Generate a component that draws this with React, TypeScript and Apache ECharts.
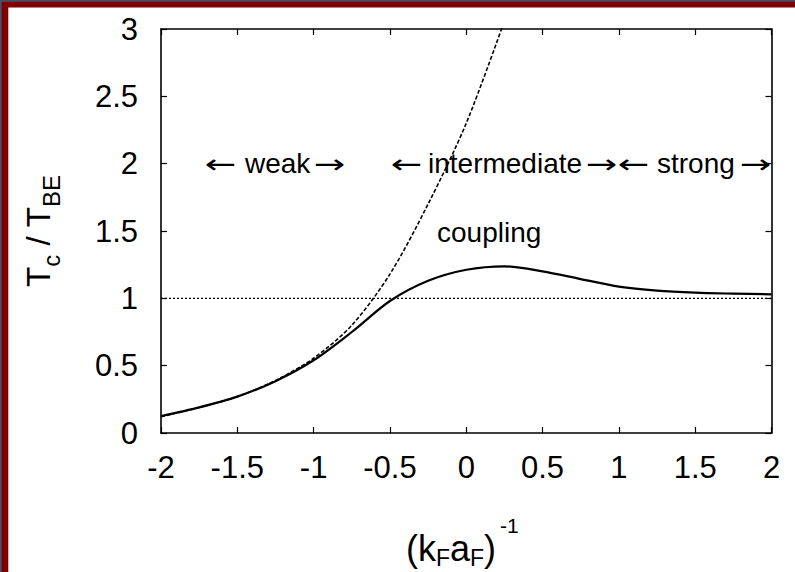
import React, { useEffect, useRef } from "react";
import * as echarts from "echarts";

// Solid curve: Tc / T_BE
const solidX = [-2, -1.75, -1.5, -1.25, -1, -0.75, -0.5, -0.25, 0, 0.25, 0.5, 0.75, 1, 1.25, 1.5, 1.75, 2];
const solidY = [0.125, 0.19, 0.27, 0.385, 0.54, 0.75, 0.98, 1.13, 1.212, 1.238, 1.2, 1.143, 1.087, 1.057, 1.042, 1.035, 1.03];

// Dashed curve (diverging)
const dashX = [-2, -1.75, -1.5, -1.25, -1, -0.75, -0.5, -0.25, 0, 0.25];
const dashY = [0.12, 0.19, 0.27, 0.39, 0.555, 0.8, 1.18, 1.7, 2.3, 3.06];

// Dotted reference level
const refX = [-2, 2];
const refY = [1, 1];

const FONT = '"Liberation Sans", Arial, Helvetica, sans-serif';
const ARROW_FONT = '"DejaVu Sans", sans-serif';

function textWidth(t: string, size: number, family = '"Liberation Sans", Arial, sans-serif') {
  const ctx = document.createElement("canvas").getContext("2d")!;
  ctx.font = `${size}px ${family}`;
  return ctx.measureText(t).width;
}

function zip(xs: number[], ys: number[]) {
  return xs.map((x, i) => [x, ys[i]]);
}

export default function App() {
  const ref = useRef<HTMLDivElement>(null);
  useEffect(() => {
    if (!ref.current) return;
    const chart = echarts.init(ref.current, undefined, { renderer: "svg" });

    // x-axis title pieces
    const xPieces = [
      { t: "(k", s: 36, base: 561, gap: 0 },
      { t: "F", s: 23, base: 566, gap: 0 },
      { t: "a", s: 36, base: 561, gap: 0 },
      { t: "F", s: 23, base: 566, gap: 0 },
      { t: ")", s: 36, base: 561, gap: 0 },
      { t: "-1", s: 21, base: 533, gap: 4 },
    ];
    let cx = 406;
    const xTitle: any[] = xPieces.map((p) => {
      cx += p.gap;
      const el = {
        type: "text",
        x: cx,
        y: p.base - 0.3465 * p.s,
        style: { text: p.t, font: `${p.s}px ${FONT}`, fill: "#000", align: "left", verticalAlign: "middle" },
      };
      cx += textWidth(p.t, p.s);
      return el;
    });

    // y-axis title pieces (rotated)
    const yPieces = [
      { t: "T", s: 33, base: 50 },
      { t: "c", s: 24, base: 60 },
      { t: " / ", s: 33, base: 50 },
      { t: "T", s: 33, base: 50 },
      { t: "BE", s: 24, base: 60 },
    ];
    const yTotal = yPieces.reduce((a, p) => a + textWidth(p.t, p.s), 0);
    let u = 0;
    const yChildren: any[] = yPieces.map((p) => {
      const el = {
        type: "text",
        x: u,
        y: p.base - 0.3465 * p.s,
        style: { text: p.t, font: `${p.s}px ${FONT}`, fill: "#000", align: "left", verticalAlign: "middle" },
      };
      u += textWidth(p.t, p.s);
      return el;
    });

    // annotation pieces: [text, left x, isArrow]
    const annRow: [string, number, boolean][] = [
      ["←", 205, true],
      ["weak", 245, false],
      ["→", 314, true],
      ["←", 391, true],
      ["intermediate", 428, false],
      ["→", 586, true],
      ["←", 618, true],
      ["strong", 657, false],
      ["→", 740, true],
    ];
    const annEls: any[] = annRow.map(([t, x, arrow]) => ({
      type: "text",
      x,
      y: arrow ? 164 : 163,
      scaleX: arrow ? 1.45 : 1,
      z: 50,
      style: {
        text: t,
        font: arrow ? `26px ${ARROW_FONT}` : `28px ${FONT}`,
        fill: "#000",
        align: "left",
        verticalAlign: "middle",
      },
    }));

    chart.setOption({
      animation: false,
      backgroundColor: "#fff",
      grid: { left: 161, right: 23.5, top: 29, bottom: 139, containLabel: false },
      xAxis: [
        {
          type: "value",
          min: -2,
          max: 2,
          interval: 0.5,
          position: "bottom",
          axisLine: { show: true, lineStyle: { color: "#000", width: 1.6 } },
          axisTick: { show: true, inside: true, length: 6, lineStyle: { color: "#000", width: 1.2 } },
          axisLabel: { color: "#000", fontSize: 31, fontFamily: FONT, margin: 19 },
          splitLine: { show: false },
        },
        {
          type: "value",
          min: -2,
          max: 2,
          interval: 0.5,
          position: "top",
          axisLine: { show: true, onZero: false, lineStyle: { color: "#000", width: 1.6 } },
          axisTick: { show: true, inside: true, length: 6, lineStyle: { color: "#000", width: 1.2 } },
          axisLabel: { show: false },
          splitLine: { show: false },
        },
      ],
      yAxis: [
        {
          type: "value",
          min: 0,
          max: 3,
          interval: 0.5,
          position: "left",
          axisLine: { show: true, onZero: false, lineStyle: { color: "#000", width: 1.6 } },
          axisTick: { show: true, inside: true, length: 6, lineStyle: { color: "#000", width: 1.2 } },
          axisLabel: { color: "#000", fontSize: 31, fontFamily: FONT, margin: 23 },
          splitLine: { show: false },
        },
        {
          type: "value",
          min: 0,
          max: 3,
          interval: 0.5,
          position: "right",
          axisLine: { show: true, onZero: false, lineStyle: { color: "#000", width: 1.6 } },
          axisTick: { show: true, inside: true, length: 6, lineStyle: { color: "#000", width: 1.2 } },
          axisLabel: { show: false },
          splitLine: { show: false },
        },
      ],
      series: [
        {
          type: "line",
          data: zip(refX, refY),
          showSymbol: false,
          lineStyle: { color: "#000", width: 1.3, type: [2, 2] },
        },
        {
          type: "line",
          data: zip(dashX, dashY),
          showSymbol: false,
          smooth: 0.3,
          clip: true,
          lineStyle: { color: "#000", width: 1.6, type: [4, 2] },
        },
        {
          type: "line",
          data: zip(solidX, solidY),
          showSymbol: false,
          smooth: 0.3,
          lineStyle: { color: "#000", width: 2.2 },
        },
      ],
      graphic: [
        { type: "rect", shape: { x: 0, y: 0, width: 795, height: 7.5 }, style: { fill: "#800000" }, z: 100 },
        { type: "rect", shape: { x: 0, y: 0, width: 8.3, height: 572 }, style: { fill: "#800000" }, z: 100 },
        { type: "rect", shape: { x: 0, y: 0, width: 795, height: 1.7 }, style: { fill: "#46506a" }, z: 101 },
        { type: "rect", shape: { x: 0, y: 0, width: 1.7, height: 572 }, style: { fill: "#46506a" }, z: 101 },
        ...annEls,
        {
          type: "text",
          x: 437,
          y: 232,
          z: 50,
          style: { text: "coupling", font: `28px ${FONT}`, fill: "#000", align: "left", verticalAlign: "middle" },
        },
        ...xTitle,
        {
          type: "group",
          x: 0,
          y: 231 + yTotal / 2,
          rotation: Math.PI / 2,
          children: yChildren,
        },
      ],
    });
    return () => chart.dispose();
  }, []);
  return (
    <div
      ref={ref}
      style={{ position: "fixed", left: 0, top: 0, width: 795, height: 572, background: "#fff" }}
    />
  );
}
